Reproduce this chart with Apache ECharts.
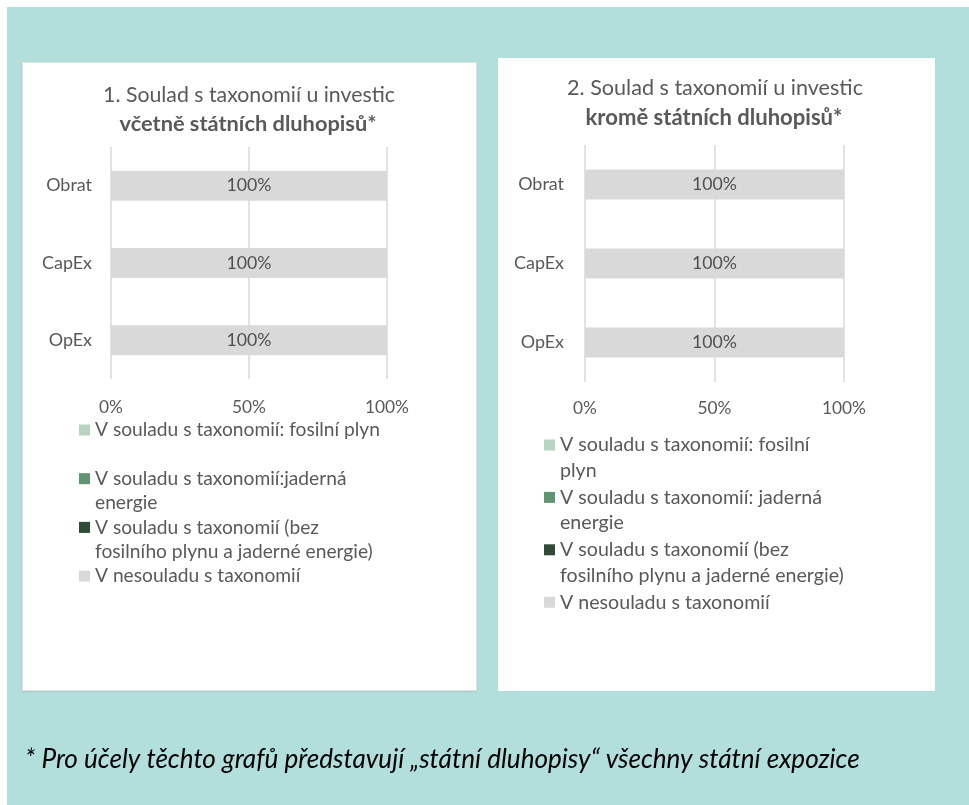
<!DOCTYPE html>
<html><head><meta charset="utf-8">
<script src="https://cdn.jsdelivr.net/npm/echarts@6/dist/echarts.min.js"></script>
<style>
html,body{margin:0;padding:0;background:#fff;width:969px;height:805px;overflow:hidden;}
#bg{position:absolute;left:7px;top:7px;width:962px;height:798px;background:#b2dedb;}
#p1{position:absolute;left:22px;top:62px;width:453px;height:627px;background:#fff;border:1px solid #e2e2e2;box-shadow:0 1px 2px rgba(0,0,0,0.08);}
#p2{position:absolute;left:498px;top:58px;width:437px;height:633px;background:#fff;}
#chart{position:absolute;left:0;top:0;width:969px;height:805px;}
</style></head>
<body>
<div id="bg"></div><div id="p1"></div><div id="p2"></div>
<div id="chart"></div>
<script>
// ---- data ----
const categories = ['Obrat', 'CapEx', 'OpEx'];
const gas1 = [0, 0, 0];
const nuclear1 = [0, 0, 0];
const otherAligned1 = [0, 0, 0];
const notAligned1 = [100, 100, 100];
const gas2 = [0, 0, 0];
const nuclear2 = [0, 0, 0];
const otherAligned2 = [0, 0, 0];
const notAligned2 = [100, 100, 100];
const axisMin = 0, axisMax = 100, axisStep = 50;
const title1 = ['1. Soulad s taxonomií u investic', 'včetně státních dluhopisů*'];
const title2 = ['2. Soulad s taxonomií u investic', 'kromě státních dluhopisů*'];
const legend1Labels = [
  'V souladu s taxonomií: fosilní plyn\n ',
  'V souladu s taxonomií:jaderná\nenergie',
  'V souladu s taxonomií (bez\nfosilního plynu a jaderné energie)',
  'V nesouladu s taxonomií\n '
];
const legend2Labels = [
  'V souladu s taxonomií: fosilní\nplyn',
  'V souladu s taxonomií: jaderná\nenergie',
  'V souladu s taxonomií (bez\nfosilního plynu a jaderné energie)',
  'V nesouladu s taxonomií\n '
];
const footnote = '* Pro účely těchto grafů představují „státní dluhopisy“ všechny státní expozice';
const seriesColors = ['#b6d4bf', '#5f9572', '#2e4b36', '#d9d9d9'];

// ---- helpers ----
const FONT = 'Lato';
const ctx = document.createElement('canvas').getContext('2d');
function fit(text, target, weight, style) {
  ctx.font = (style || 'normal') + ' ' + (weight || 'normal') + ' 100px ' + FONT;
  return +(100 * target / ctx.measureText(text).width).toFixed(2);
}
const TXT = '#595959';
const fsTitleA = fit(title1[0], 292);
const fsTitleB = fit(title1[1], 257, 'bold');
const fsTitle2A = fit(title2[0], 296);
const fsTitle2B = fit(title2[1], 257, 'bold');
const fsLeg1 = fit('V souladu s taxonomií: fosilní plyn', 285);
const fsLeg2 = fit('V souladu s taxonomií (bez', 229);
const fsFoot = fit(footnote, 835, 'normal', 'italic');
const fsCat = fit('CapEx', 50);
const fsAxis = fit('100%', 44);
const fsBar = fit('100%', 45);

const ids1 = ['a1', 'b1', 'c1', 'd1'];
const ids2 = ['a2', 'b2', 'c2', 'd2'];
const vals1 = [gas1, nuclear1, otherAligned1, notAligned1];
const vals2 = [gas2, nuclear2, otherAligned2, notAligned2];
const labelMap = {};
// leading empty line so the first text line sits level with the legend swatch
ids1.forEach((id, i) => labelMap[id] = '\n' + legend1Labels[i]);
ids2.forEach((id, i) => labelMap[id] = '\n' + legend2Labels[i]);

function makeSeries(ids, vals, gi) {
  return ids.map((id, i) => ({
    name: id, type: 'bar', stack: 'st' + gi, xAxisIndex: gi, yAxisIndex: gi,
    data: vals[i], barWidth: 30, silent: true,
    itemStyle: { color: seriesColors[i] },
    label: {
      show: i === 3, position: 'inside', formatter: '{c}%',
      color: '#505050', fontSize: fsBar, fontFamily: FONT
    }
  }));
}
function xAxis(gi, margin) {
  return {
    type: 'value', gridIndex: gi, min: axisMin, max: axisMax, interval: axisStep,
    axisLine: { show: false }, axisTick: { show: false },
    splitLine: { lineStyle: { color: '#d9d9d9', width: 1.5 } },
    axisLabel: { formatter: '{value}%', color: TXT, fontSize: fsAxis, fontFamily: FONT, margin: margin }
  };
}
function yAxis(gi, margin) {
  return {
    type: 'category', gridIndex: gi, data: categories, inverse: true,
    axisLine: { show: false }, axisTick: { show: false },
    axisLabel: { color: TXT, fontSize: fsCat, fontFamily: FONT, margin: margin }
  };
}
function legend(ids, left, top, fs, lh, step) {
  return {
    orient: 'vertical', left: left, top: top, padding: 0,
    itemWidth: 11, itemHeight: 11, itemGap: step - 3 * lh, icon: 'rect',
    selectedMode: false, data: ids,
    formatter: n => labelMap[n],
    textStyle: { color: TXT, fontSize: fs, fontFamily: FONT, lineHeight: lh }
  };
}
function gtext(text, x, y, fs, weight, style, align) {
  return {
    type: 'text', x: x, y: y, silent: true,
    style: {
      text: text, fill: TXT, align: align || 'center', verticalAlign: 'middle',
      font: (style || 'normal') + ' ' + (weight || 'normal') + ' ' + fs + 'px ' + FONT
    }
  };
}

const chart = echarts.init(document.getElementById('chart'), null, { renderer: 'canvas' });
chart.setOption({
  backgroundColor: 'transparent',
  animation: false,
  grid: [
    { left: 111, top: 147, width: 276, height: 232 },
    { left: 585, top: 145, width: 259, height: 237 }
  ],
  xAxis: [xAxis(0, 20), xAxis(1, 18)],
  yAxis: [yAxis(0, 19), yAxis(1, 21)],
  legend: [
    legend(ids1, 79, 430 - 1.5 * 24.35, fsLeg1, 24.35, 48.7),
    legend(ids2, 544, 445 - 1.5 * 25.5, fsLeg2, 25.5, 52.4)
  ],
  series: makeSeries(ids1, vals1, 0).concat(makeSeries(ids2, vals2, 1)),
  graphic: [
    gtext(title1[0], 249, 95, fsTitleA),
    gtext(title1[1], 248, 124, fsTitleB, 'bold'),
    gtext(title2[0], 715, 88, fsTitle2A),
    gtext(title2[1], 714, 118, fsTitle2B, 'bold'),
    {
      type: 'text', x: 25, y: 760, silent: true,
      style: { text: footnote, fill: '#000', align: 'left', verticalAlign: 'middle',
        font: 'italic normal ' + fsFoot + 'px ' + FONT }
    }
  ]
});
</script>
</body></html>
